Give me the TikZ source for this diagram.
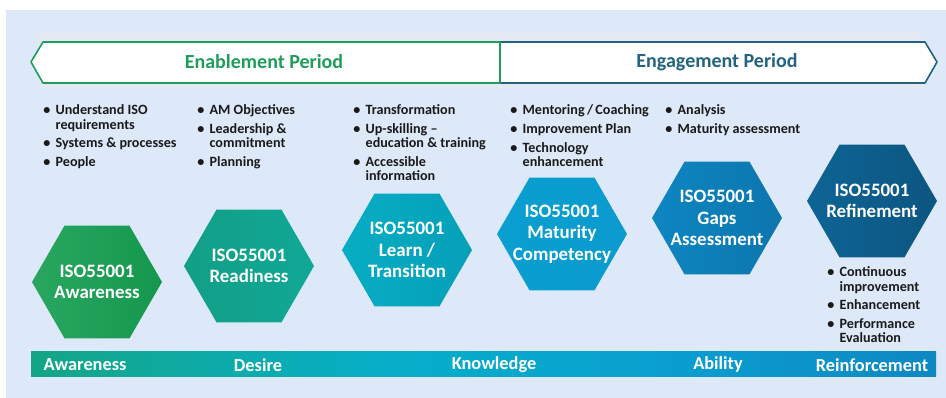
\documentclass[tikz,border=0pt]{standalone}
\usepackage{fontspec}
\setmainfont{Carlito}
\usetikzlibrary{shapes.geometric}
\definecolor{bgblue}{HTML}{DDE8F8}
\definecolor{bandgray}{HTML}{E3E8F2}
\definecolor{enablegreen}{HTML}{1E9E5A}
\definecolor{engageblue}{HTML}{22637F}
\definecolor{listblack}{HTML}{1A1A1A}
\definecolor{stageA}{HTML}{169F52}
\definecolor{stageB}{HTML}{12A78D}
\definecolor{stageC}{HTML}{06AEC9}
\definecolor{stageD}{HTML}{0A9FD0}
\definecolor{stageE}{HTML}{0E83C0}
\definecolor{stageF}{HTML}{0D5A87}
\pgfdeclarehorizontalshading{stageshade}{100bp}{color(0bp)=(stageA); color(12bp)=(stageA);
  color(27bp)=(stageB); color(45bp)=(stageC); color(60bp)=(stageD); color(78bp)=(stageE);
  color(100bp)=(stageF)}
\newcommand{\itemgap}{3.4pt}

\begin{document}
\begin{tikzpicture}[x=0.75pt,y=-0.75pt,
    hexa/.style={regular polygon,regular polygon sides=6,minimum size=97.5pt,inner sep=0pt},
    hexlbl/.style={text=white,align=center,inner sep=0pt,font=\fontsize{14.2}{16}\selectfont\bfseries},
    blist/.style={anchor=base west,inner sep=0pt,text=listblack,
      font=\fontsize{10.6}{10.4}\selectfont\bfseries},
    stagelbl/.style={text=white,font=\fontsize{13.75}{15}\selectfont\bfseries},
    period/.style={font=\fontsize{15}{17}\selectfont\bfseries}]
  \useasboundingbox (0,0) rectangle (946,398);
  \fill[bgblue] (6,10) rectangle (946,398);
  \fill[bandgray] (38,32) rectangle (924,88);

  \draw[engageblue,line width=1.2pt,fill=white,line join=round] (500,42) -- (925,42) -- (937,62) -- (925,83) -- (500,83) -- cycle;
  \draw[enablegreen,line width=1.2pt,fill=white,line join=round] (31,62) -- (43,42) -- (500,42) -- (500,83) -- (43,83) -- cycle;
  \node[period,text=enablegreen] (enable) at (264,62) {Enablement Period};
  \node[period,text=engageblue] (engage) at (717,62) {Engagement Period};

  \node[blist] (list1) at (43,115) {\begin{tabular}[t]{@{}l@{\hspace{4pt}}l@{}}
    \textbullet & Understand ISO\\ & requirements\\[\itemgap]
    \textbullet & Systems \& processes\\[\itemgap]
    \textbullet & People\end{tabular}};
  \node[blist] (list2) at (197,115) {\begin{tabular}[t]{@{}l@{\hspace{4pt}}l@{}}
    \textbullet & AM Objectives\\[\itemgap]
    \textbullet & Leadership \&\\ & commitment\\[\itemgap]
    \textbullet & Planning\end{tabular}};
  \node[blist] (list3) at (353,115) {\begin{tabular}[t]{@{}l@{\hspace{4pt}}l@{}}
    \textbullet & Transformation\\[\itemgap]
    \textbullet & Up-skilling --\\ & education \& training\\[\itemgap]
    \textbullet & Accessible\\ & information\end{tabular}};
  \node[blist] (list4) at (510,115) {\begin{tabular}[t]{@{}l@{\hspace{4pt}}l@{}}
    \textbullet & Mentoring\,/\,Coaching\\[\itemgap]
    \textbullet & Improvement Plan\\[\itemgap]
    \textbullet & Technology\\ & enhancement\end{tabular}};
  \node[blist] (list5) at (665,115) {\begin{tabular}[t]{@{}l@{\hspace{4pt}}l@{}}
    \textbullet & Analysis\\[\itemgap]
    \textbullet & Maturity assessment\end{tabular}};
  \node[blist] (list6) at (827,277) {\begin{tabular}[t]{@{}l@{\hspace{4pt}}l@{}}
    \textbullet & Continuous\\ & improvement\\[\itemgap]
    \textbullet & Enhancement\\[\itemgap]
    \textbullet & Performance\\ & Evaluation\end{tabular}};

  \node[hexa,left color=stageA!92!white,right color=stageA!95!black] (aware) at (97,282) {};
  \node[hexa,left color=stageB!95!black,right color=stageB!85!stageC] (ready) at (249,266) {};
  \node[hexa,left color=stageC!90!stageB,right color=stageC!92!black] (learn) at (407,250) {};
  \node[hexa,left color=stageD,right color=stageD!85!stageE] (mature) at (562,234) {};
  \node[hexa,left color=stageE!90!stageD,right color=stageE!90!black] (gaps) at (717,218) {};
  \node[hexa,left color=stageF!75!stageE,right color=stageF!95!black] (refine) at (872,201) {};
  \node[hexlbl] (awaretxt) at (aware) {ISO55001\\Awareness};
  \node[hexlbl] (readytxt) at (ready) {ISO55001\\Readiness};
  \node[hexlbl] (learntxt) at (learn) {ISO55001\\Learn /\\Transition};
  \node[hexlbl] (maturetxt) at (mature) {ISO55001\\Maturity\\Competency};
  \node[hexlbl] (gapstxt) at (gaps) {ISO55001\\Gaps\\Assessment};
  \node[hexlbl] (refinetxt) at (refine) {ISO55001\\Refinement};

  \shade[shading=stageshade] (31,352) rectangle (936,377);
  \node[stagelbl] (awareness) at (85,365) {Awareness};
  \node[stagelbl] (desire) at (258,365) {Desire};
  \node[stagelbl] (knowledge) at (494,365) {Knowledge};
  \node[stagelbl] (ability) at (718,365) {Ability};
  \node[stagelbl] (reinforce) at (872,365) {Reinforcement};
\end{tikzpicture}
\end{document}
